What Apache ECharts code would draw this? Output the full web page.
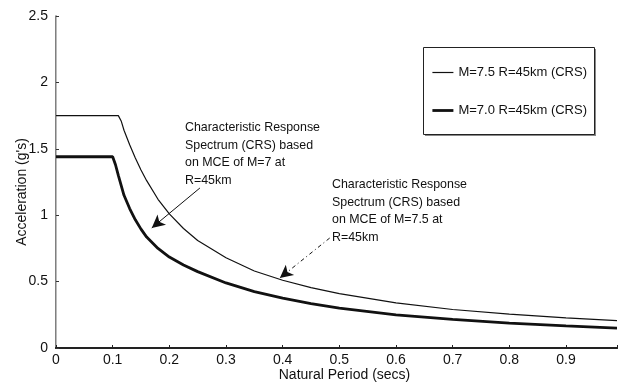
<!DOCTYPE html>
<html><head><meta charset="utf-8">
<script src="https://cdn.jsdelivr.net/npm/echarts@6/dist/echarts.min.js"></script>
<style>html,body{margin:0;padding:0;background:#fff}#c{width:619px;height:384px}</style>
</head><body><div id="c"></div>
<script>
// M=7.5 R=45km (CRS) - thin line
const periods75 = [0,0.11,0.115,0.12,0.13,0.14,0.15,0.16,0.18,0.2,0.225,0.25,0.3,0.35,0.4,0.45,0.5,0.6,0.7,0.8,0.9,0.99];
const accel75   = [1.75,1.75,1.71,1.64,1.53,1.43,1.34,1.26,1.12,1.01,0.9,0.81,0.68,0.58,0.51,0.455,0.41,0.34,0.29,0.255,0.227,0.206];
// M=7.0 R=45km (CRS) - thick line
const periods70 = [0,0.1,0.105,0.11,0.12,0.13,0.14,0.15,0.16,0.18,0.2,0.225,0.25,0.3,0.35,0.4,0.45,0.5,0.6,0.7,0.8,0.9,0.99];
const accel70   = [1.44,1.44,1.38,1.3,1.15,1.05,0.965,0.895,0.835,0.75,0.685,0.625,0.575,0.49,0.425,0.375,0.335,0.3,0.25,0.215,0.187,0.166,0.15];
const seriesNames = ['M=7.5 R=45km (CRS)','M=7.0 R=45km (CRS)'];
const xTickLabels = ['0','0.1','0.2','0.3','0.4','0.5','0.6','0.7','0.8','0.9'];
const yTickLabels = ['0','0.5','1','1.5','2','2.5'];
// annotation arrows in data coordinates [period, acceleration]
const arrow70From = [0.254,1.205], arrow70To = [0.169,0.904];
const arrow75From = [0.483,0.828], arrow75To = [0.395,0.527];
const note70 = 'Characteristic Response\nSpectrum (CRS) based\non MCE of M=7 at\nR=45km';
const note75 = 'Characteristic Response\nSpectrum (CRS) based\non MCE of M=7.5 at\nR=45km';

const FONT = '"Liberation Sans", Arial, sans-serif';
const zip = (a,b)=>a.map((v,i)=>[v,b[i]]);
const chart = echarts.init(document.getElementById('c'), null, {renderer:'canvas'});
chart.setOption({
  animation:false,
  backgroundColor:'#fff',
  textStyle:{fontFamily:FONT,color:'#111'},
  grid:{left:56,right:2,top:16,bottom:36,containLabel:false,outerBoundsMode:'none'},
  xAxis:[{
    type:'value',min:0,max:0.99,interval:0.1,
    name:'Natural Period (secs)',nameLocation:'middle',nameGap:20,nameMoveOverlap:false,
    nameTextStyle:{fontSize:14,color:'#111',fontFamily:FONT,padding:[0,0,0,16]},
    axisLine:{show:true,lineStyle:{color:'#222',width:2}},
    axisTick:{show:true,inside:true,length:3,lineStyle:{color:'#222'}},
    axisLabel:{fontSize:14,color:'#111',margin:5,
      formatter:(v)=>{const i=Math.round(v*10);return (Math.abs(v*10-i)<1e-6&&i<xTickLabels.length)?xTickLabels[i]:'';}},
    splitLine:{show:false}
  },{
    type:'value',position:'top',min:0,max:0.99,
    axisLine:{show:true,lineStyle:{color:'#222',width:2}},
    axisTick:{show:false},axisLabel:{show:false},splitLine:{show:false}
  }],
  yAxis:[{
    type:'value',min:0,max:2.5,interval:0.5,
    name:"Acceleration (g's)",nameLocation:'middle',nameGap:27,nameMoveOverlap:false,
    nameTextStyle:{fontSize:14,color:'#111',fontFamily:FONT,padding:[0,20,0,0]},
    axisLine:{show:true,lineStyle:{color:'#555',width:1.5}},
    axisTick:{show:true,inside:true,length:3,lineStyle:{color:'#333'}},
    axisLabel:{fontSize:14,color:'#111',margin:8,
      formatter:(v)=>{const i=Math.round(v*2);return yTickLabels[i]||'';}},
    splitLine:{show:false}
  },{
    type:'value',position:'right',min:0,max:2.5,
    axisLine:{show:true,lineStyle:{color:'#bbb',width:1}},
    axisTick:{show:false},axisLabel:{show:false},splitLine:{show:false}
  }],
  legend:{
    orient:'vertical',left:426,top:61,itemWidth:21,itemHeight:14,itemGap:25,
    itemStyle:{opacity:0,color:'rgba(0,0,0,0)',borderWidth:0},
    textStyle:{fontSize:13,color:'#111',fontFamily:FONT},
    data:[
      {name:seriesNames[0],lineStyle:{width:1.2,color:'#111'}},
      {name:seriesNames[1],lineStyle:{width:2.8,color:'#111'}}
    ],z:10
  },
  graphic:[
    {type:'rect',left:425,top:49,z:1,shape:{width:171,height:87},style:{fill:'#888'}},
    {type:'rect',left:423,top:47,z:2,shape:{width:171,height:87},style:{fill:'#fff',stroke:'#222',lineWidth:1}},
    {type:'text',left:185,top:119,z:5,style:{text:note70,font:'12.4px '+FONT,lineHeight:17.5,fill:'#111'}},
    {type:'text',left:332,top:176,z:5,style:{text:note75,font:'12.4px '+FONT,lineHeight:17.5,fill:'#111'}}
  ],
  series:[
    {name:seriesNames[0],type:'line',symbol:'none',smooth:false,data:zip(periods75,accel75),
     lineStyle:{color:'#111',width:1.2},itemStyle:{color:'#111'},
     markLine:{silent:true,symbol:['none','arrow'],symbolSize:[10,13],label:{show:false},
       lineStyle:{color:'#111',width:1,type:[4,3,1,3]},
       data:[[{coord:arrow75From},{coord:arrow75To}]]}},
    {name:seriesNames[1],type:'line',symbol:'none',smooth:false,data:zip(periods70,accel70),
     lineStyle:{color:'#111',width:2.8},itemStyle:{color:'#111'},
     markLine:{silent:true,symbol:['none','arrow'],symbolSize:[10,13],label:{show:false},
       lineStyle:{color:'#111',width:1,type:'solid'},
       data:[[{coord:arrow70From},{coord:arrow70To}]]}}
  ]
});
</script></body></html>
